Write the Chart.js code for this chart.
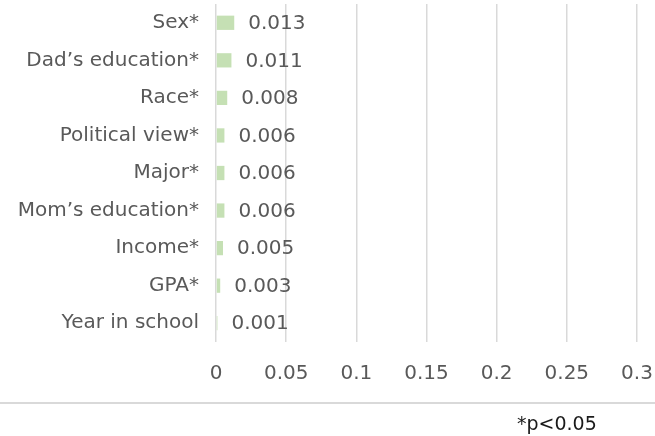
<!DOCTYPE html>
<html lang="en">
<head>
<meta charset="UTF-8">
<title>Variable importance</title>
<script src="https://cdn.jsdelivr.net/npm/chart.js"></script>
<style>
  html, body { margin: 0; padding: 0; background: #fff; }
  #wrap { width: 655px; height: 436px; }
</style>
</head>
<body>
<div id="wrap"><canvas id="chart" width="655" height="436"></canvas></div>
<script>
// chart data
const categories = ["Sex*", "Dad\u2019s education*", "Race*", "Political view*", "Major*",
                    "Mom\u2019s education*", "Income*", "GPA*", "Year in school"];
const values = [0.013, 0.011, 0.008, 0.006, 0.006, 0.006, 0.005, 0.003, 0.001];
const xTicks = [0, 0.05, 0.1, 0.15, 0.2, 0.25, 0.3];
const footnote = "*p<0.05";

const FONT = "DejaVu Sans";
const GREY = "#595959";

// value labels at the end of each bar
const barLabels = {
    id: 'barLabels',
    afterDatasetsDraw(chart) {
        const ctx = chart.ctx;
        const meta = chart.getDatasetMeta(0);
        ctx.save();
        ctx.font = "20px '" + FONT + "'";
        ctx.fillStyle = GREY;
        ctx.textAlign = 'left';
        ctx.textBaseline = 'middle';
        meta.data.forEach((bar, i) => {
            ctx.fillText(values[i].toFixed(3), bar.x + 14, bar.y + 1);
        });
        ctx.restore();
    }
};

// separator line and footnote under the chart
const footer = {
    id: 'footer',
    afterDraw(chart) {
        const ctx = chart.ctx;
        ctx.save();
        ctx.strokeStyle = '#d9d9d9';
        ctx.lineWidth = 2;
        ctx.beginPath();
        ctx.moveTo(0, 403);
        ctx.lineTo(chart.width, 403);
        ctx.stroke();
        ctx.font = "19px '" + FONT + "'";
        ctx.fillStyle = '#1a1a1a';
        ctx.textAlign = 'left';
        ctx.textBaseline = 'middle';
        ctx.fillText(footnote, 517, 425);
        ctx.restore();
    }
};

new Chart(document.getElementById('chart'), {
    type: 'bar',
    data: {
        labels: categories,
        datasets: [{
            data: values,
            backgroundColor: '#c5e0b4',
            borderWidth: 0,
            categoryPercentage: 1,
            barPercentage: 0.38
        }]
    },
    options: {
        indexAxis: 'y',
        responsive: false,
        animation: false,
        layout: { padding: { top: 4, right: 18, left: 0, bottom: 0 } },
        plugins: { legend: { display: false }, tooltip: { enabled: false } },
        scales: {
            x: {
                min: 0,
                max: 0.3,
                afterBuildTicks: axis => { axis.ticks = xTicks.map(v => ({ value: v })); },
                afterFit: axis => {
                    axis.height = 94;
                    axis.paddingLeft = 0;
                    axis.paddingRight = 0;
                },
                grid: { color: '#d9d9d9', lineWidth: 1.5, drawTicks: false },
                border: { display: false },
                ticks: {
                    padding: 20,
                    color: GREY,
                    font: { family: FONT, size: 20 },
                    callback: v => String(v)
                }
            },
            y: {
                afterFit: axis => {
                    axis.width = 216;
                    axis.paddingTop = 0;
                    axis.paddingBottom = 0;
                },
                grid: { display: false, drawTicks: false },
                border: { display: false },
                ticks: {
                    padding: 17,
                    color: GREY,
                    font: { family: FONT, size: 20 }
                }
            }
        }
    },
    plugins: [barLabels, footer]
});
</script>
</body>
</html>
